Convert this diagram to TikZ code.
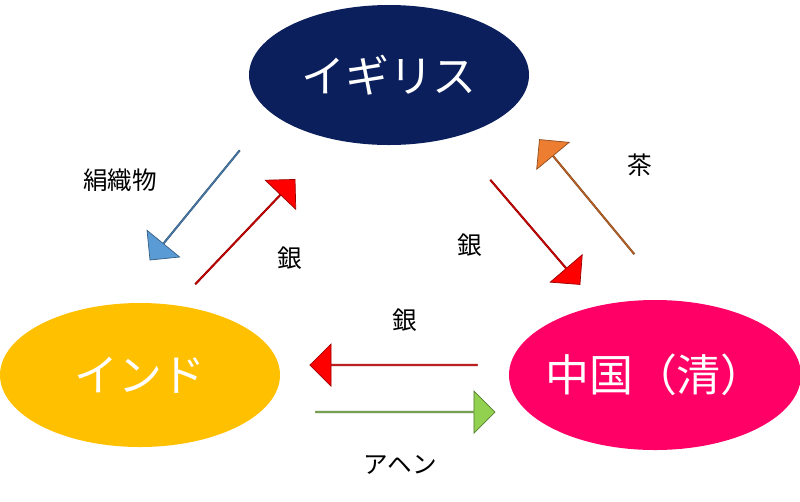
\documentclass[tikz,border=0pt]{standalone}
\usepackage{fontspec}
\setmainfont{Noto Sans CJK JP}
\usetikzlibrary{shapes.arrows}
\definecolor{navy}{HTML}{0A1F5C}
\definecolor{gold}{HTML}{FFC000}
\definecolor{rose}{HTML}{FF0066}
\definecolor{sky}{HTML}{5B9BD5}
\definecolor{tea}{HTML}{ED7D31}
\definecolor{leaf}{HTML}{92D050}

\begin{document}
\begin{tikzpicture}[x=0.02cm,y=-0.02cm,
  country/.style={text=white,font=\fontsize{25}{28}\selectfont},
  trade/.style={single arrow,draw=#1!60!black,fill=#1,minimum width=24pt,single arrow head extend=6pt,
    single arrow head indent=0pt,inner sep=0pt},
  goods/.style={font=\fontsize{14}{16}\selectfont}]
  \useasboundingbox (0,0) rectangle (800,501);
  \path[fill=navy] (389,75) ellipse [x radius=140,y radius=70];
  \path[fill=gold] (140,375) ellipse [x radius=140,y radius=72];
  \path[fill=rose] (655,375) ellipse [x radius=146,y radius=75];
  \node[country] (uk) at (389,75) {イギリス};
  \node[country] (india) at (140,375) {インド};
  \node[country] (china) at (655,375) {中国（清）};
  % block arrows
  \node[trade=sky,minimum height=142*0.567pt,rotate=230.7] (a1) at (195,205) {};
  \node[trade=red,minimum height=145*0.567pt,rotate=46.4] (a2) at (245,232) {};
  \node[trade=red,minimum height=138*0.567pt,rotate=-49.4] (a3) at (535,232) {};
  \node[trade=tea,minimum height=149*0.567pt,rotate=129.6] (a4) at (587,197) {};
  \node[trade=red,minimum height=168*0.567pt,rotate=180] (a5) at (394,365) {};
  \node[trade=leaf,minimum height=180*0.567pt] (a6) at (405,412) {};
  % labels
  \node[goods] (silk) at (120,180) {絹織物};
  \node[goods] (s1) at (290,258) {銀};
  \node[goods] (s2) at (470,245) {銀};
  \node[goods] (tea) at (640,165) {茶};
  \node[goods] (s3) at (405,320) {銀};
  \node[goods] (opium) at (400,465) {アヘン};
\end{tikzpicture}
\end{document}
